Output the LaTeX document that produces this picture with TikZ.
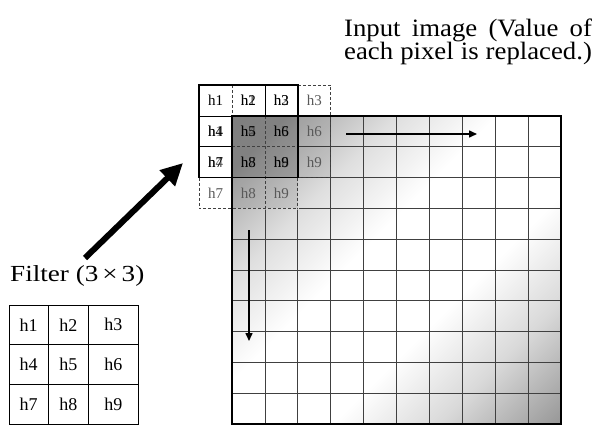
\documentclass[tikz,border=0pt]{standalone}
\usepackage{fontspec}
\setmainfont{Liberation Serif}
\newfontfamily\topfont{Liberation Serif}[FakeStretch=1.07]
\newfontfamily\filtfont{Liberation Serif}[FakeStretch=1.18]
\usetikzlibrary{arrows.meta}
\pgfdeclarehorizontalshading{imgshade}{100bp}{color(0bp)=(gray!80); color(20bp)=(gray!70); color(33bp)=(gray!25); color(44bp)=(white); color(60bp)=(white); color(72bp)=(gray!30); color(85bp)=(gray!80); color(100bp)=(gray!85)}
\tikzset{
  gridline/.style={line width=0.75pt, draw=black!75},
  dashln/.style={line width=0.7pt, draw=black!75, dash pattern=on 3pt off 2pt},
  thinln/.style={line width=0.7pt, draw=black},
  thickln/.style={line width=1.6pt, draw=black},
  cl/.style={inner sep=0pt, font=\fontsize{15}{15}\selectfont},
  solidlab/.style={cl, text=black},
  shiftlab/.style={cl, text=black!65},
  smalllab/.style={inner sep=0pt, font=\fontsize{18}{18}\selectfont},
}
\begin{document}
\begin{tikzpicture}[x=1pt,y=-1pt]
\useasboundingbox (0,0) rectangle (597,426);

% input image
\coordinate (imgTL) at (232,116);
\coordinate (imgBR) at (561,424);
\shade[shading=imgshade, shading angle=-45] (imgTL) rectangle (imgBR);

% grid of the image, hidden under the filter overlay
\begin{scope}[even odd rule]
  \clip (232,116) rectangle (561,424) (232,116) rectangle (299,209.5);
  \foreach \i in {1,...,9} \draw[gridline] ({232+32.9*\i},116) -- ({232+32.9*\i},424);
  \foreach \j in {1,...,9} \draw[gridline] (232,{116+30.8*\j}) -- (561,{116+30.8*\j});
\end{scope}

% filter overlay fills
\fill[white] (199.1,85.2) rectangle (330.7,116);
\fill[white] (199.1,116) rectangle (232,208.4);
\fill[black, opacity=.08] (232,116) rectangle (297.8,177.6);
\fill[black, opacity=.08] (232,116) rectangle (330.7,177.6);
\fill[black, opacity=.08] (232,116) rectangle (297.8,208.4);

% dashed lines of the shifted filters
\draw[dashln] (232,85.2) -- (232,116);
\draw[dashln] (264.9,116) -- (264.9,208.4);
\draw[dashln] (297.8,177.6) -- (297.8,208.4);
\draw[dashln] (297.8,85.2) -- (330.7,85.2) -- (330.7,177.6) -- (297.8,177.6);
\draw[dashln] (232,146.8) -- (297.8,146.8);
\draw[dashln] (199.1,177.6) -- (199.1,208.4) -- (297.8,208.4);

% thin solid inner lines of the filter
\draw[thinln] (264.9,85.2) -- (264.9,116);
\draw[thinln] (199.1,116) -- (232,116);
\draw[thinln] (199.1,146.8) -- (232,146.8);

% image border and filter border
\draw[thickln] (imgTL) rectangle (imgBR);
\draw[thickln] (199.1,85.2) rectangle (297.8,177.6);

% overlay labels: shifted right, shifted down, then the filter itself
\foreach \r in {0,1,2} {
  \foreach \c in {0,1,2} {
    \pgfmathtruncatemacro{\n}{3*\r+\c+1}
    \node[shiftlab] (r\c\r) at ({199.1+32.9*(\c+1.5)},{85.2+30.8*(\r+0.5)}) {h\n};
    \node[shiftlab] (d\c\r) at ({199.1+32.9*(\c+0.5)},{85.2+30.8*(\r+1.5)}) {h\n};
  }
}
\foreach \r in {0,1,2} {
  \foreach \c in {0,1,2} {
    \pgfmathtruncatemacro{\n}{3*\r+\c+1}
    \node[solidlab] (s\c\r) at ({199.1+32.9*(\c+0.5)},{85.2+30.8*(\r+0.5)}) {h\n};
  }
}

% scanning arrows
\coordinate (ha) at (346,134);
\coordinate (hb) at (477,134);
\draw[line width=1.5pt, -{Triangle[length=8pt,width=7pt]}] (ha) -- (hb);
\coordinate (va) at (249,230);
\coordinate (vb) at (249,341);
\draw[line width=1.5pt, -{Triangle[length=8pt,width=7pt]}] (va) -- (vb);

% title text
\node[anchor=base west, inner sep=0pt] (t1) at (344,36.7)
  {\topfont\fontsize{25}{30}\selectfont\makebox[247.7pt][s]{Input image (Value of}};
\node[anchor=base west, inner sep=0pt] (t2) at (344,59.5)
  {\topfont\fontsize{25}{30}\selectfont\makebox[247.7pt][s]{each pixel is replaced.)}};

% filter label and arrow
\node[anchor=base west, inner sep=0pt] (flab) at (10,281.7)
  {\filtfont\fontsize{23}{27}\selectfont Filter (3\hspace{4pt}×\hspace{4pt}3)};
\coordinate (fa) at (85,258);
\coordinate (fb) at (183,163);
\draw[line width=6pt, -{Triangle[length=22pt,width=21pt]}] (fa) -- (fb);

% small filter grid
\draw[line width=0.8pt] (9,305) rectangle (138.3,424);
\draw[line width=0.8pt] (48.3,305) -- (48.3,424) (88.3,305) -- (88.3,424);
\draw[line width=0.8pt] (9,344.5) -- (138.3,344.5) (9,384) -- (138.3,384);
\foreach \r/\yy in {0/324.8,1/364.3,2/404} {
  \foreach \c/\xx in {0/28.7,1/68.3,2/113.3} {
    \pgfmathtruncatemacro{\n}{3*\r+\c+1}
    \node[smalllab] (f\c\r) at (\xx,\yy) {h\n};
  }
}
\end{tikzpicture}
\end{document}
